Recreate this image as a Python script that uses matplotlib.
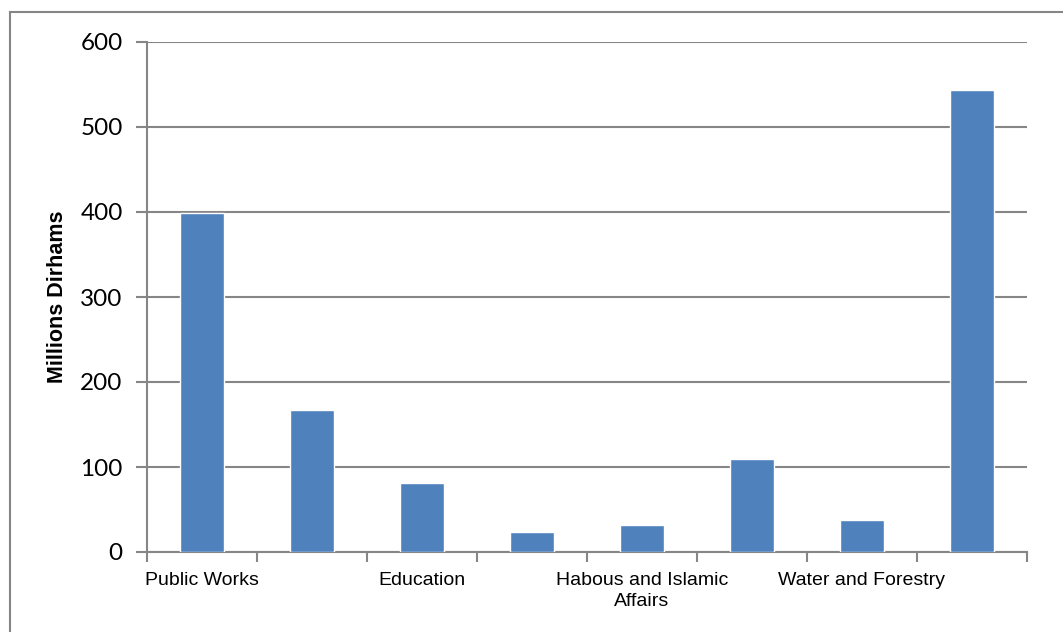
import matplotlib
matplotlib.use("Agg")
import matplotlib.pyplot as plt
from matplotlib.lines import Line2D
import numpy as np

categories = ["Public Works", "", "Education", "", "Habous and Islamic\nAffairs", "", "Water and Forestry", ""]
values = [399, 167, 81, 24, 32, 110, 38, 543]
y_ticks = [0, 100, 200, 300, 400, 500, 600]
y_label = "Millions Dirhams"

bar_color = "#4F81BD"
grey = "#868686"

fig = plt.figure(figsize=(10.63, 6.32), dpi=100)
ax = fig.add_axes([147/1063, 1-552/632, (1027-147)/1063, (552-42)/632])

x = np.arange(len(values))
ax.bar(x, values, width=0.4, color=bar_color, edgecolor="white", linewidth=1.0, zorder=3)

ax.set_xlim(-0.5, len(values) - 0.5)
ax.set_ylim(0, 600)
ax.set_yticks(y_ticks)
ax.set_yticklabels([str(v) for v in y_ticks], fontname="Lato", fontsize=17.5)
ax.yaxis.grid(True, color=grey, linewidth=1.5, zorder=0)
ax.set_axisbelow(True)

# x ticks at category boundaries, labels at centres
ax.set_xticks(np.arange(len(values) + 1) - 0.5)
ax.set_xticklabels([])
ax.set_xticks(x, minor=True)
ax.set_xticklabels(categories, minor=True, fontname="Liberation Sans", fontsize=14,
                   linespacing=1.3)
ax.tick_params(axis="x", which="minor", length=0, pad=14.5)
ax.tick_params(axis="x", which="major", length=7, width=1.5, color=grey, direction="out")
ax.tick_params(axis="y", length=8, width=1.5, color=grey, direction="out", pad=9.5)

for s in ["top", "right"]:
    ax.spines[s].set_visible(False)
for s in ["left", "bottom"]:
    ax.spines[s].set_color(grey)
    ax.spines[s].set_linewidth(1.5)

ax.set_ylabel(y_label, fontname="Liberation Sans", fontweight="bold", fontsize=15.5)
ax.yaxis.set_label_coords(-0.09, 0.5)

# outer chart frame (partially visible)
fig.add_artist(Line2D([10/1063, 10/1063], [0, 1-12/632], color=grey, linewidth=1.5,
                      transform=fig.transFigure))
fig.add_artist(Line2D([10/1063, 1], [1-12/632, 1-12/632], color=grey, linewidth=1.5,
                      transform=fig.transFigure))

fig.savefig("out.png", dpi=100)
